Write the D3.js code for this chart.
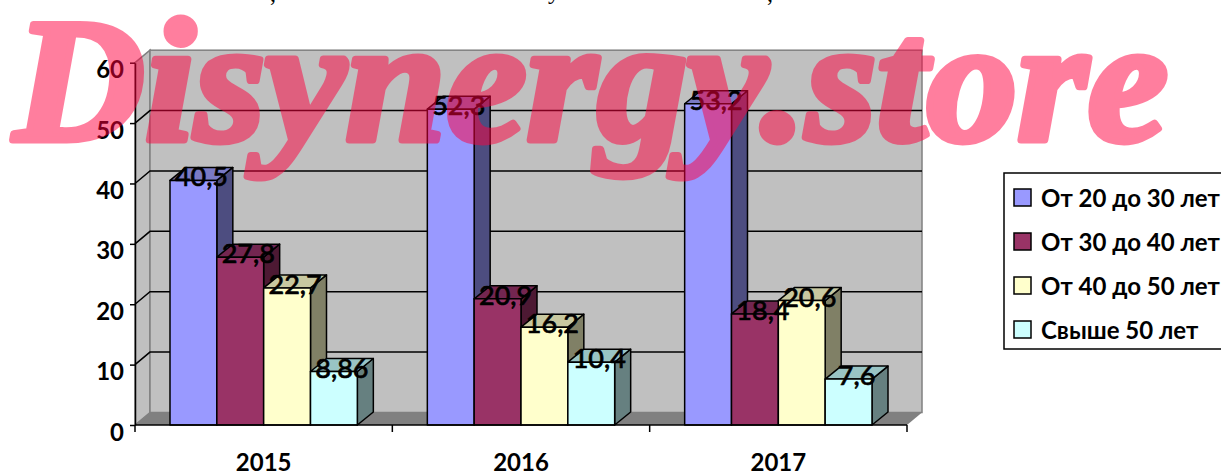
<!DOCTYPE html>
<html>
<head>
<meta charset="utf-8">
<script src="https://cdn.jsdelivr.net/npm/d3@7"></script>
<style>
html, body { margin: 0; padding: 0; background: #fff; overflow: hidden; }
svg { display: block; }
text { font-family: Lato, sans-serif; fill: #000; }
</style>
</head>
<body>
<svg id="chart" width="1221" height="474"></svg>
<script>
const years = ['2015', '2016', '2017']
const seriesNames = ['От 20 до 30 лет', 'От 30 до 40 лет', 'От 40 до 50 лет', 'Свыше 50 лет']
const ageGroup1 = [40.5, 52.3, 53.2]
const ageGroup2 = [27.8, 20.9, 18.4]
const ageGroup3 = [22.7, 16.2, 20.6]
const ageGroup4 = [8.86, 10.4, 7.6]
const yTicks = [0, 10, 20, 30, 40, 50, 60]
const seriesValues = [ageGroup1, ageGroup2, ageGroup3, ageGroup4]
// what is left of the cropped line of text above the chart
const croppedGlyphs = [',', 'у', ',']
const croppedGlyphX = [270, 548, 767]

const front = '#9999ff #993366 #ffffcc #ccffff'.split(' ')
const side = '#4d4d80 #4d1933 #808066 #668080'.split(' ')
const top_ = '#7a7ac4 #732650 #c8c8a0 #99c4c4'.split(' ')

const svg = d3.select('#chart')

// fake 3d: the walls sit up and to the right of the front axes
const WALL_DX = 15, WALL_DY = 12.5
const BAR_DX = 16, BAR_DY = 13

const x = d3.scaleBand().domain(years).range([135, 907]).paddingInner(0.272).paddingOuter(0.136)
const xInner = d3.scaleBand().domain(d3.range(seriesNames.length)).range([0, x.bandwidth()])
const y = d3.scaleLinear().domain([0, 60]).range([425, 62.7])

const poly = pts => pts.map(p => p.join(',')).join(' ')

svg.selectAll('text.cropped')
    .data(croppedGlyphs)
    .enter()
    .append('text')
    .classed('cropped', true)
    .attr('x', (d, i) => croppedGlyphX[i])
    .attr('y', (d, i) => d === 'у' ? -1 : 1)
    .attr('font-size', 24)
    .style('font-family', '"Liberation Serif"')
    .text(d => d)

// walls and floor
svg.append('polygon')
    .attr('points', poly([[135, y(0)], [135, y(60)], [135 + WALL_DX, y(60) - WALL_DY], [135 + WALL_DX, y(0) - WALL_DY]]))
    .attr('fill', '#c0c0c0').attr('stroke', '#808080').attr('stroke-width', 1.5)
svg.append('rect')
    .attr('x', 135 + WALL_DX).attr('y', y(60) - WALL_DY)
    .attr('width', 772).attr('height', y(0) - y(60))
    .attr('fill', '#c0c0c0').attr('stroke', '#808080').attr('stroke-width', 1.5)
svg.append('polygon')
    .attr('points', poly([[135, y(0)], [135 + WALL_DX, y(0) - WALL_DY], [907 + WALL_DX, y(0) - WALL_DY], [907, y(0)]]))
    .attr('fill', '#808080')

// gridlines, back wall plus the slanted bit on the left wall
const grid = svg.append('g').attr('stroke', '#000').attr('stroke-width', 1.5).attr('fill', 'none')
grid.selectAll('polyline')
    .data(yTicks.filter(d => d > 0 && d < 60))
    .enter()
    .append('polyline')
    .attr('points', d => poly([[135, y(d)], [135 + WALL_DX, y(d) - WALL_DY], [907 + WALL_DX, y(d) - WALL_DY]]))

// bars
const groups = svg.selectAll('g.year')
    .data(years)
    .enter()
    .append('g')
    .classed('year', true)
    .attr('transform', d => `translate(${x(d)},0)`)

const bars = groups.selectAll('g.bar')
    .data((d, i) => seriesValues.map((vals, s) => ({ value: vals[i], s: s })))
    .enter()
    .append('g')
    .classed('bar', true)
    .attr('stroke', '#000')
    .attr('stroke-width', 1.5)
    .attr('stroke-linejoin', 'round')

const w = xInner.bandwidth()
bars.append('polygon')
    .attr('fill', d => side[d.s])
    .attr('points', d => {
        const l = xInner(d.s) + w, t = y(d.value)
        return poly([[l, t], [l + BAR_DX, t - BAR_DY], [l + BAR_DX, y(0) - BAR_DY], [l, y(0)]])
    })
bars.append('polygon')
    .attr('fill', d => top_[d.s])
    .attr('points', d => {
        const l = xInner(d.s), t = y(d.value)
        return poly([[l, t], [l + BAR_DX, t - BAR_DY], [l + w + BAR_DX, t - BAR_DY], [l + w, t]])
    })
bars.append('rect')
    .attr('fill', d => front[d.s])
    .attr('x', d => xInner(d.s))
    .attr('y', d => y(d.value))
    .attr('width', w)
    .attr('height', d => y(0) - y(d.value))

// value labels go above all the bars
groups.selectAll('text.value')
    .data((d, i) => seriesValues.map((vals, s) => ({ value: vals[i], s: s })))
    .enter()
    .append('text')
    .classed('value', true)
    .attr('x', d => xInner(d.s) + w / 2 + 8)
    .attr('y', d => y(d.value) + 6)
    .attr('text-anchor', 'middle')
    .attr('font-size', 27)
    .attr('font-weight', 500)
    .style('stroke', '#000')
    .style('stroke-width', 0.6)
    .text(d => String(d.value).replace('.', ','))

// axes
const yAxis = d3.axisLeft(y).tickValues(yTicks).tickSize(5).tickSizeOuter(0).tickFormat(d => d).tickPadding(6)
const yG = svg.append('g').attr('transform', 'translate(135,0)').call(yAxis)
yG.select('.domain').attr('stroke', '#000').attr('stroke-width', 1.5)
yG.selectAll('.tick line').attr('stroke', '#000').attr('stroke-width', 1.5)
yG.selectAll('.tick text')
    .attr('font-size', 24).attr('font-weight', 700).attr('font-family', 'Lato')
    .attr('dy', 15).attr('fill', '#000')

const xTickPos = d3.range(years.length + 1).map(i => 135 + i * x.step())
const xLine = svg.append('g').attr('stroke', '#000').attr('stroke-width', 1.5)
xLine.append('line').attr('x1', 135).attr('x2', 907).attr('y1', y(0)).attr('y2', y(0))
xLine.selectAll('line.tick')
    .data(xTickPos)
    .enter()
    .append('line')
    .classed('tick', true)
    .attr('x1', d => d).attr('x2', d => d)
    .attr('y1', y(0)).attr('y2', y(0) + 7)

svg.selectAll('text.year-label')
    .data(years)
    .enter()
    .append('text')
    .classed('year-label', true)
    .attr('x', d => x(d) + x.bandwidth() / 2)
    .attr('y', 471)
    .attr('text-anchor', 'middle')
    .attr('font-size', 24)
    .attr('font-weight', 700)
    .text(d => d)

// legend, the box runs off the right edge in the reference
svg.append('rect')
    .attr('x', 1004).attr('y', 173).attr('width', 230).attr('height', 176)
    .attr('fill', '#fff').attr('stroke', '#000').attr('stroke-width', 1.5)
const legendItems = svg.selectAll('g.legend')
    .data(seriesNames)
    .enter()
    .append('g')
    .classed('legend', true)
    .attr('transform', (d, i) => `translate(1014,${189 + i * 44})`)
legendItems.append('rect')
    .attr('width', 17).attr('height', 17)
    .attr('fill', (d, i) => front[i]).attr('stroke', '#000').attr('stroke-width', 1.5)
legendItems.append('text')
    .attr('x', 27).attr('y', 18)
    .attr('font-size', 24)
    .attr('font-weight', 700)
    .text(d => d)

// watermark on top of everything
svg.append('text')
    .attr('x', 14)
    .attr('y', 140)
    .style('font-family', '"Liberation Serif"')
    .attr('font-style', 'italic')
    .attr('font-weight', 700)
    .attr('font-size', 176)
    .style('fill', '#ff003f')
    .style('stroke', '#ff003f')
    .style('stroke-width', 7)
    .style('stroke-linejoin', 'round')
    .attr('opacity', 0.5)
    .attr('textLength', 1154)
    .attr('lengthAdjust', 'spacingAndGlyphs')
    .text('Disynergy.store')
</script>
</body>
</html>
